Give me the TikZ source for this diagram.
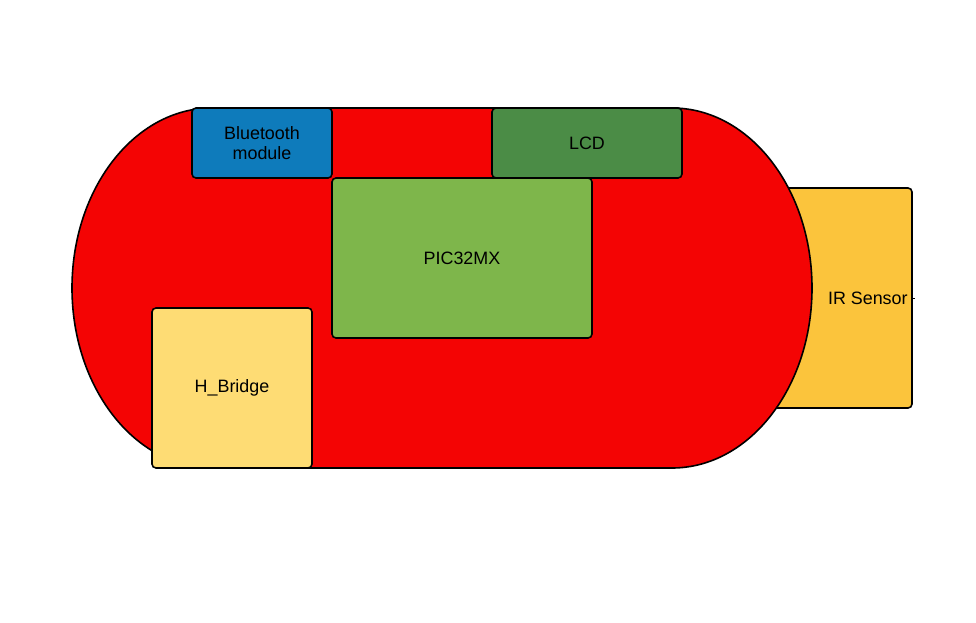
\documentclass[tikz,border=0pt]{standalone}
\usepackage{fontspec}
\setmainfont{Liberation Sans}
\definecolor{chassis}{HTML}{F40404}
\definecolor{btblue}{HTML}{0E7BBB}
\definecolor{lcdgreen}{HTML}{4B8C46}
\definecolor{picgreen}{HTML}{7EB64B}
\definecolor{hbyellow}{HTML}{FEDC74}
\definecolor{iryellow}{HTML}{FBC43C}
\tikzset{
  part/.style={draw=black, line width=1.6pt, rounded corners=4pt, inner sep=0pt, align=center,
    font=\fontsize{17.9}{20.7}\selectfont},
  body/.style={draw=black, line width=1.6pt, fill=chassis},
  lbl/.style={inner sep=0pt, font=\fontsize{17.9}{20.7}\selectfont}
}
\begin{document}
\begin{tikzpicture}[x=1pt,y=1pt]
\useasboundingbox (0,0) rectangle (976,622);
% IR sensor (behind chassis)
\node[part, fill=iryellow, minimum width=170pt, minimum height=220pt] (ir) at (827,324) {};
\node[lbl, anchor=east] (irl) at ([xshift=-5pt]ir.east) {IR Sensor};
\coordinate (tick) at ([xshift=2.5pt]ir.east);
\draw[line width=1pt] (ir.east) -- (tick);
% chassis
\draw[body] (212,514) -- (672,514)
  arc[start angle=90, end angle=-90, x radius=140pt, y radius=180pt]
  -- (212,154)
  arc[start angle=-90, end angle=-270, x radius=140pt, y radius=180pt]
  -- cycle;
% modules
\node[part, fill=btblue, minimum width=140pt, minimum height=70pt] (bt) at (262,479) {Bluetooth\\module};
\node[part, fill=lcdgreen, minimum width=190pt, minimum height=70pt] (lcd) at (587,479) {LCD};
\node[part, fill=picgreen, minimum width=260pt, minimum height=160pt] (pic) at (462,364) {PIC32MX};
\node[part, fill=hbyellow, minimum width=160pt, minimum height=160pt] (hb) at (232,234) {H\_Bridge};
\end{tikzpicture}
\end{document}
